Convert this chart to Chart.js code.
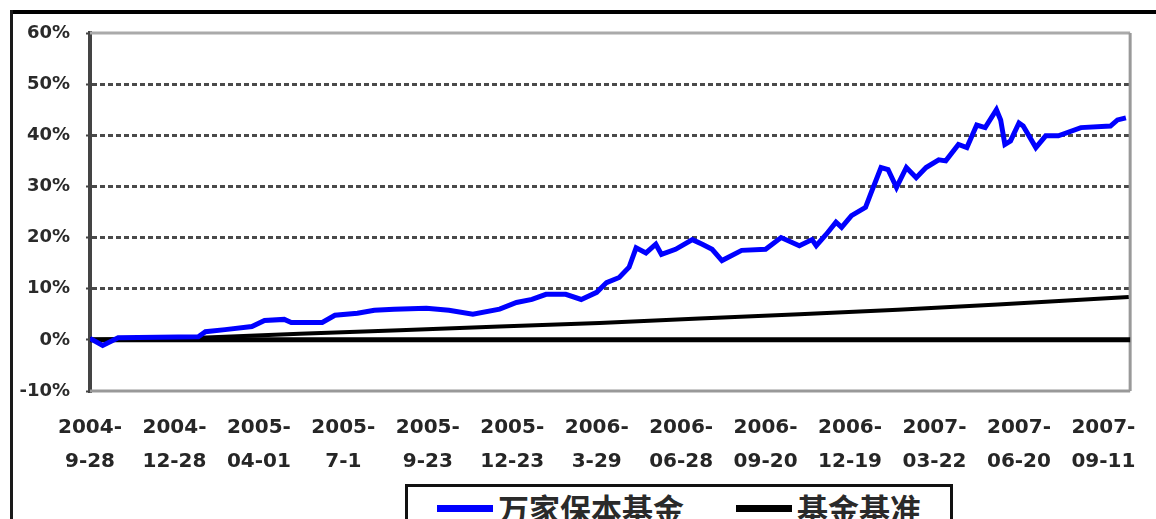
<!DOCTYPE html>
<html>
<head>
<meta charset="utf-8">
<script src="https://cdn.jsdelivr.net/npm/chart.js@4.4.1/dist/chart.umd.min.js"></script>
<style>
  body { margin: 0; background: #fff; overflow: hidden; }
  #wrap { position: relative; width: 1156px; height: 519px; }
  #legend {
    position: absolute; left: 405px; top: 484px; width: 542px; height: 48px;
    border: 3px solid #111; background: #fff;
    font: bold 31px "Noto Sans CJK SC"; color: #2a2a2a;
    display: flex; align-items: flex-start; padding-top: 2px; box-sizing: content-box;
  }
  #legend .item { display: flex; align-items: center; line-height: 38px; }
  #legend .swatch { display: inline-block; width: 56px; height: 7px; margin-right: 5px; }
</style>
</head>
<body>
<div id="wrap">
  <canvas id="myChart" width="1156" height="519"></canvas>
  <div id="legend"></div>
</div>
<script>
// x = trading day count since 2004-09-28, one tick label every 60 days
const tickLabels = [
  ["2004-", "9-28"], ["2004-", "12-28"], ["2005-", "04-01"], ["2005-", "7-1"],
  ["2005-", "9-23"], ["2005-", "12-23"], ["2006-", "3-29"], ["2006-", "06-28"],
  ["2006-", "09-20"], ["2006-", "12-19"], ["2007-", "03-22"], ["2007-", "06-20"],
  ["2007-", "09-11"]
];
const tickStep = 60;
const lastDay = 739;

const seriesNames = ["万家保本基金", "基金基准"];

const fundDays = [0, 9, 20, 77, 82, 96, 115, 124, 138, 143, 165, 174, 190, 202, 216, 239, 255, 272,
  291, 303, 314, 324, 338, 349, 360, 367, 376, 383, 388, 395, 402, 406, 416, 428, 435, 442, 449,
  463, 480, 491, 504, 513, 516, 523, 530, 534, 541, 551, 555, 562, 567, 573, 580, 587, 594, 603,
  608, 617, 623, 630, 636, 644, 647, 650, 654, 660, 663, 672, 679, 688, 704, 725, 730, 736];
const fundValues = [0.3, -1.1, 0.4, 0.6, 1.6, 2.0, 2.6, 3.8, 4.0, 3.4, 3.4, 4.8, 5.2, 5.8, 6.0, 6.2, 5.8, 5.0,
  6.0, 7.3, 7.9, 8.9, 8.9, 7.9, 9.3, 11.2, 12.2, 14.2, 18.0, 17.0, 18.7, 16.7, 17.7, 19.6, 18.7, 17.7, 15.5,
  17.5, 17.7, 20.0, 18.4, 19.6, 18.4, 20.6, 23.0, 22.0, 24.3, 25.9, 28.8, 33.7, 33.3, 29.8, 33.7, 31.7, 33.7, 35.2,
  35.0, 38.2, 37.6, 42.0, 41.5, 45.0, 43.0, 38.2, 38.9, 42.4, 41.8, 37.6, 39.9, 39.9, 41.5, 41.8, 43.0, 43.4];

const benchDays = [0, 78, 149, 220, 291, 362, 433, 504, 574, 645, 738];
const benchValues = [0, 0.4, 1.2, 1.9, 2.6, 3.3, 4.2, 5.0, 5.9, 6.9, 8.4];

const colors = ["#0000ff", "#000000"];

function toPoints(xs, ys) {
  return xs.map((x, i) => ({ x: x, y: ys[i] }));
}

const framePlugin = {
  id: 'frame',
  beforeDraw(chart) {
    const c = chart.ctx;
    c.save();
    c.fillStyle = '#000';
    c.fillRect(10, 10, 1146, 4);
    c.fillStyle = '#1a1a1a';
    c.fillRect(10, 10, 3, 509);
    c.restore();
  },
  beforeDatasetsDraw(chart) {
    const c = chart.ctx;
    const a = chart.chartArea;
    const y0 = chart.scales.y.getPixelForValue(0);
    c.save();
    c.strokeStyle = '#aaaaaa';
    c.lineWidth = 3;
    c.beginPath();
    c.moveTo(a.left, a.top); c.lineTo(a.right, a.top);
    c.stroke();
    c.strokeStyle = '#999999';
    c.beginPath();
    c.moveTo(a.right, a.top); c.lineTo(a.right, a.bottom);
    c.moveTo(a.left, a.bottom); c.lineTo(a.right, a.bottom);
    c.stroke();
    c.strokeStyle = '#000';
    c.lineWidth = 5;
    c.beginPath();
    c.moveTo(a.left, y0); c.lineTo(a.right, y0);
    c.stroke();
    c.restore();
  }
};

const ctx = document.getElementById('myChart');

new Chart(ctx, {
  type: 'line',
  data: {
    datasets: [{
      label: seriesNames[0],
      data: toPoints(fundDays, fundValues),
      borderColor: colors[0],
      borderWidth: 5,
      pointRadius: 0,
      tension: 0
    }, {
      label: seriesNames[1],
      data: toPoints(benchDays, benchValues),
      borderColor: colors[1],
      borderWidth: 4,
      pointRadius: 0,
      tension: 0
    }]
  },
  options: {
    responsive: false,
    animation: false,
    layout: { padding: { left: 0, right: 24, top: 33, bottom: 20 } },
    plugins: {
      legend: { display: false },
      tooltip: { enabled: false }
    },
    scales: {
      x: {
        type: 'linear',
        min: 0,
        max: lastDay,
        afterBuildTicks: (scale) => {
          scale.ticks = tickLabels.map((_, i) => ({ value: i * tickStep }));
        },
        grid: { display: false, drawTicks: false },
        border: { display: false },
        ticks: {
          padding: 20,
          maxRotation: 0,
          autoSkip: false,
          color: '#262626',
          font: { family: 'DejaVu Sans', weight: 'bold', size: 20, lineHeight: 1.7 },
          callback: (v) => tickLabels[Math.round(v / tickStep)]
        }
      },
      y: {
        min: -10,
        max: 60,
        afterFit: (scale) => { scale.width = 90; },
        grid: {
          color: (c) => (c.tick && c.tick.value > 0 && c.tick.value < 60) ? '#4a4a4a' : 'transparent',
          lineWidth: 3,
          tickLength: 4,
          tickColor: '#444',
          tickWidth: 2
        },
        border: { color: '#444', width: 4, dash: [5, 3] },
        ticks: {
          stepSize: 10,
          padding: 16,
          color: '#2a2a2a',
          font: { family: 'DejaVu Sans', weight: 'bold', size: 18 },
          callback: (v) => v + '%'
        }
      }
    }
  },
  plugins: [framePlugin]
});

const legend = document.getElementById('legend');
seriesNames.forEach((name, i) => {
  const item = document.createElement('div');
  item.className = 'item';
  item.style.marginLeft = i === 0 ? '29px' : '52px';
  const sw = document.createElement('span');
  sw.className = 'swatch';
  sw.style.background = colors[i];
  const label = document.createElement('span');
  label.textContent = name;
  item.appendChild(sw);
  item.appendChild(label);
  legend.appendChild(item);
});
</script>
</body>
</html>
